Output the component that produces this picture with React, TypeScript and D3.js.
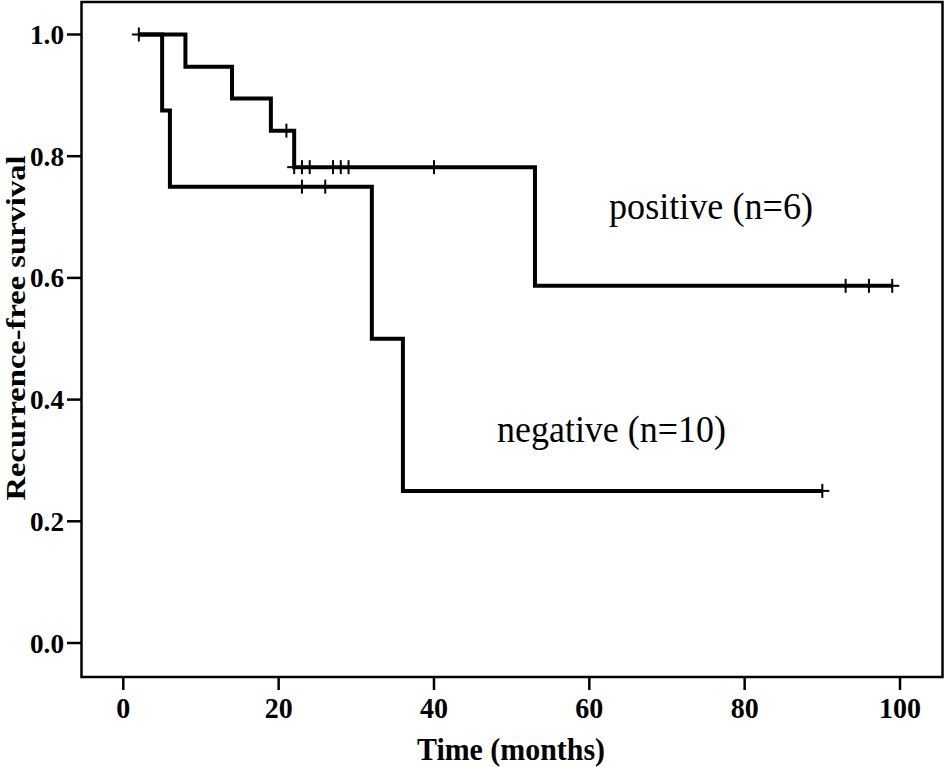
import React from 'react';
import * as d3 from 'd3';

// Kaplan-Meier steps
const posTimes = [2, 8, 14, 19, 22, 53];
const posSurv = [1.0, 0.947, 0.895, 0.842, 0.782, 0.587];
const posEnd = 99;
const posCensor = [2, 21, 22, 23, 24, 27, 28, 29, 40, 93, 96, 99];

const negTimes = [2, 5, 6, 32, 36];
const negSurv = [1.0, 0.875, 0.75, 0.5, 0.25];
const negEnd = 90;
const negCensor = [23, 26, 90];

const xTicks = [0, 20, 40, 60, 80, 100];
const yTicks = [0, 0.2, 0.4, 0.6, 0.8, 1.0];

const W = 945;
const H = 767;
const frame = { left: 81.5, top: 2, right: 942.5, bottom: 677 };

const x = d3.scaleLinear().domain([0, 100]).range([123.3, 900]);
const y = d3.scaleLinear().domain([0, 1]).range([643, 34.5]);

const stepLine = d3
  .line<[number, number]>()
  .x(d => x(d[0]))
  .y(d => y(d[1]))
  .curve(d3.curveStepAfter);

// value of the step function at time t (value just after any drop at t)
const survAt = (times: number[], surv: number[], t: number) => {
  let s = surv[0];
  times.forEach((tt, i) => {
    if (tt <= t) s = surv[i];
  });
  return s;
};

const curvePath = (times: number[], surv: number[], end: number) => {
  const pts: [number, number][] = times.map((t, i) => [t, surv[i]]);
  pts.push([end, surv[surv.length - 1]]);
  return stepLine(pts) || '';
};

const Censor: React.FC<{ t: number; s: number }> = ({ t, s }) => {
  const cx = x(t);
  const cy = y(s);
  return (
    <g stroke="#000" strokeWidth={2}>
      <line x1={cx} x2={cx} y1={cy - 7} y2={cy + 7} />
      <line x1={cx - 7} x2={cx + 7} y1={cy} y2={cy} />
    </g>
  );
};

const App: React.FC = () => {
  const serif = 'Liberation Serif, serif';
  return (
    <svg
      width={W}
      height={H}
      style={{ position: 'absolute', left: 0, top: 0, background: '#fff' }}
      fontFamily={serif}
    >
      <rect x={0} y={0} width={W} height={H} fill="#fff" />

      {/* frame */}
      <rect
        x={frame.left}
        y={frame.top}
        width={frame.right - frame.left}
        height={frame.bottom - frame.top}
        fill="none"
        stroke="#000"
        strokeWidth={2.5}
      />

      {/* y axis */}
      {yTicks.map(v => (
        <g key={'y' + v}>
          <line x1={67} x2={frame.left} y1={y(v)} y2={y(v)} stroke="#000" strokeWidth={2.5} />
          <text
            x={64}
            y={y(v) + 9.5}
            textAnchor="end"
            fontSize={28}
            fontWeight="bold"
            textLength={34}
            lengthAdjust="spacingAndGlyphs"
          >
            {v.toFixed(1)}
          </text>
        </g>
      ))}

      {/* x axis */}
      {xTicks.map(v => (
        <g key={'x' + v}>
          <line x1={x(v)} x2={x(v)} y1={frame.bottom} y2={690} stroke="#000" strokeWidth={2.5} />
          <text
            x={x(v)}
            y={718}
            textAnchor="middle"
            fontSize={29}
            fontWeight="bold"
            textLength={String(v).length * 14}
            lengthAdjust="spacingAndGlyphs"
          >
            {v}
          </text>
        </g>
      ))}

      <text
        x={511}
        y={760}
        textAnchor="middle"
        fontSize={31}
        fontWeight="bold"
        textLength={188}
        lengthAdjust="spacingAndGlyphs"
      >
        Time (months)
      </text>
      <text
        transform="translate(25,328) rotate(-90)"
        textAnchor="middle"
        fontSize={27}
        fontWeight="bold"
        textLength={345}
        lengthAdjust="spacingAndGlyphs"
      >
        Recurrence-free survival
      </text>

      {/* curves */}
      <path d={curvePath(negTimes, negSurv, negEnd)} fill="none" stroke="#000" strokeWidth={4} />
      <path d={curvePath(posTimes, posSurv, posEnd)} fill="none" stroke="#000" strokeWidth={4} />

      {negCensor.map(t => (
        <Censor key={'nc' + t} t={t} s={survAt(negTimes, negSurv, t)} />
      ))}
      {posCensor.map(t => (
        <Censor key={'pc' + t} t={t} s={survAt(posTimes, posSurv, t)} />
      ))}

      {/* group labels */}
      <text
        x={609}
        y={219}
        fontSize={37}
        textLength={204}
        lengthAdjust="spacingAndGlyphs"
      >
        positive (n=6)
      </text>
      <text
        x={497}
        y={442}
        fontSize={37}
        textLength={229}
        lengthAdjust="spacingAndGlyphs"
      >
        negative (n=10)
      </text>
    </svg>
  );
};

export default App;
